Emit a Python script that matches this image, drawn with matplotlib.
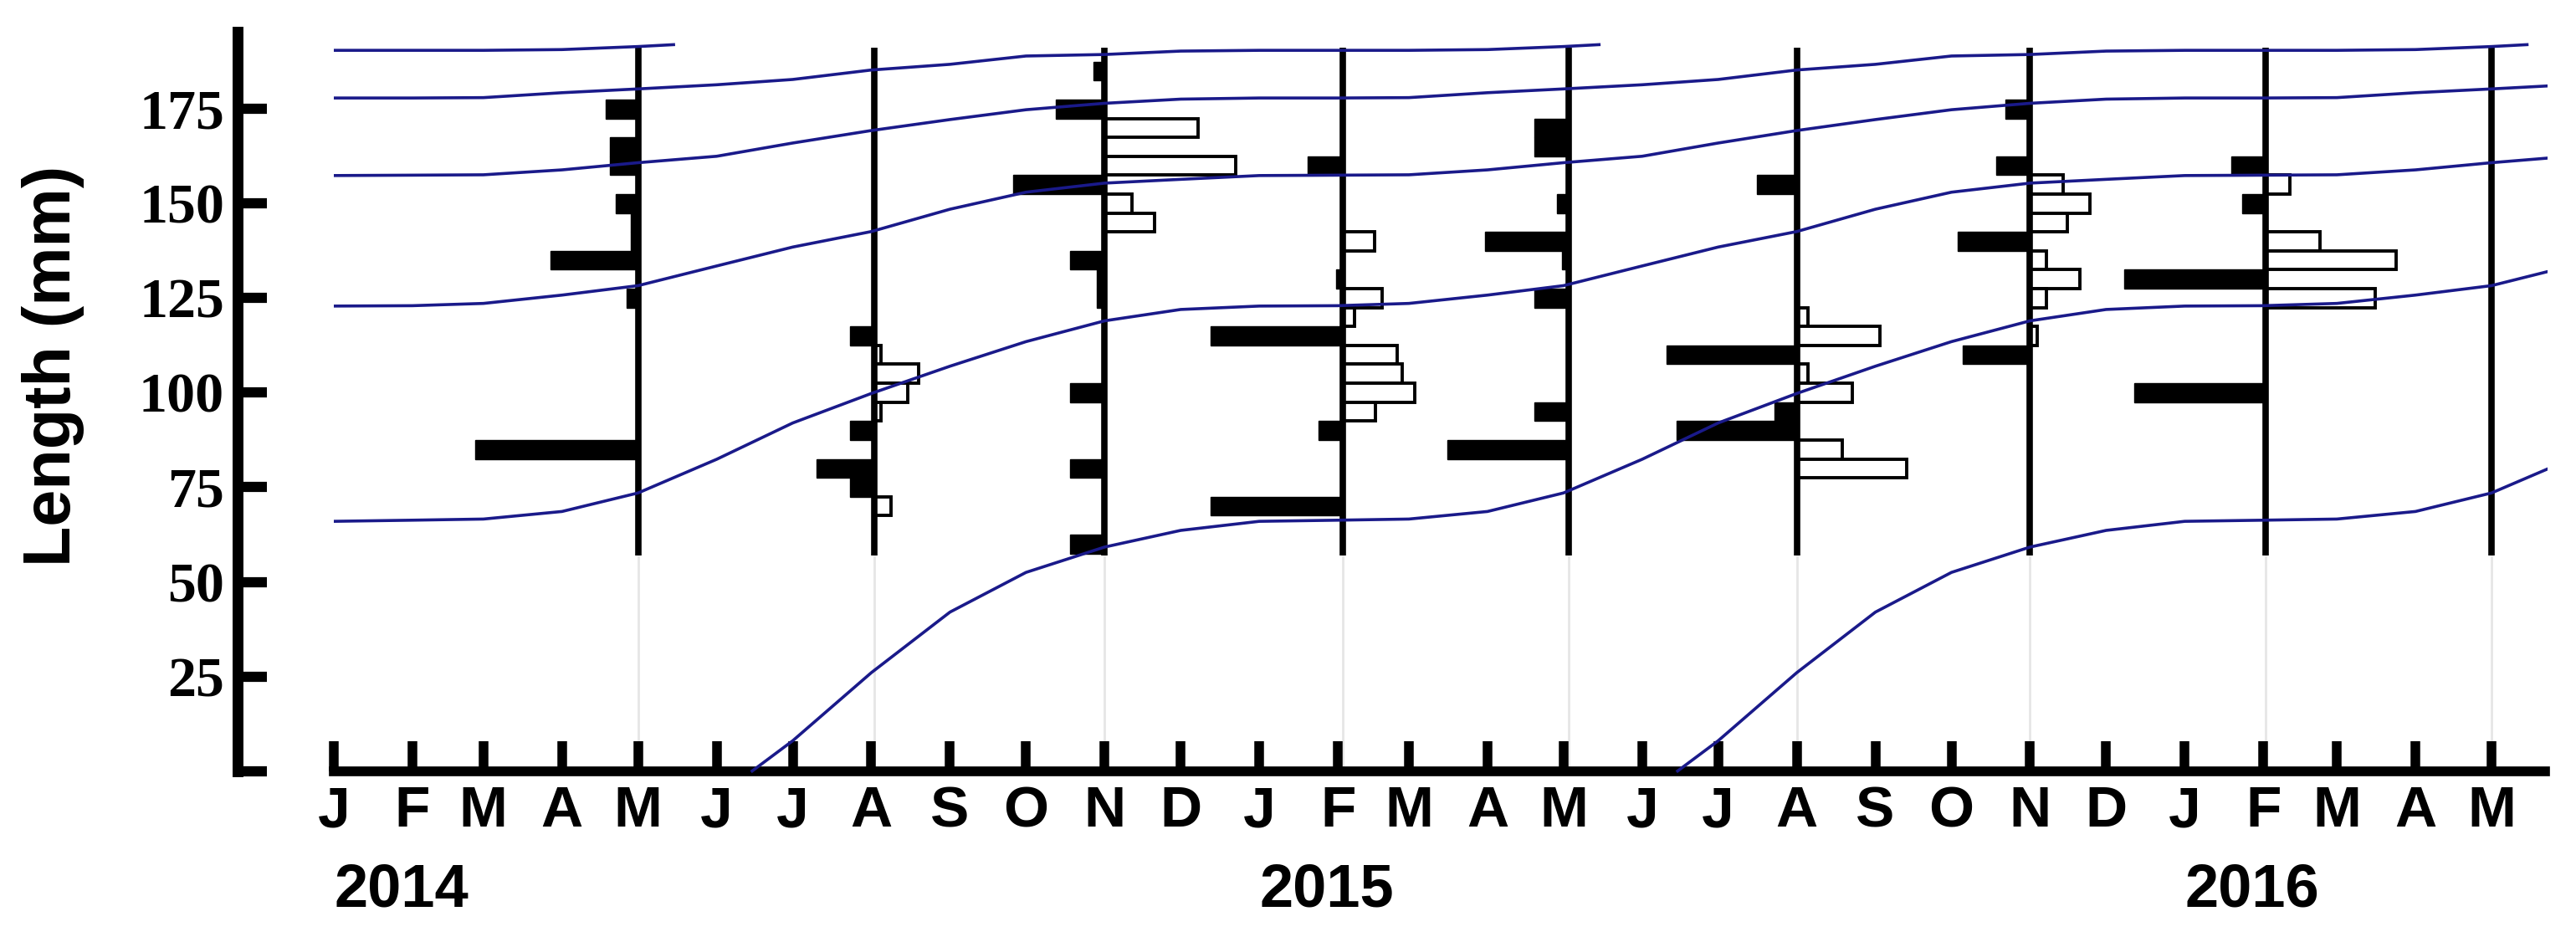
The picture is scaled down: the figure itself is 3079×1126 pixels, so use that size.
### Length-frequency histograms per sampling date with the fitted
### (seasonal) growth curves of the successive cohorts on top.

import datetime as dt
import matplotlib
matplotlib.use("Agg")
import matplotlib.pyplot as plt
import matplotlib.dates as mdates
import matplotlib.transforms as mtransforms
from matplotlib.patches import Rectangle

### sampling dates (one vertical line each)
sample_dates = ["2014-05-01", "2014-08-02", "2014-11-01", "2015-02-03", "2015-05-03",
                "2015-08-01", "2015-11-01", "2016-02-02", "2016-05-01"]

### (length class mm, relative frequency) -- filled bars go left, open bars go right
black_may14 = [(175, 8.6), (165, 7.5), (160, 7.5), (150, 5.8), (145, 1.9), (140, 1.9),
               (135, 23.0), (125, 3.1), (85, 42.9)]
open_may14 = []
black_aug14 = [(115, 6.2), (90, 6.2), (80, 15.0), (75, 6.2)]
open_aug14 = [(110, 1.8), (105, 11.8), (100, 8.8), (95, 1.8), (70, 4.4)]
black_nov14 = [(185, 3.0), (175, 12.9), (155, 24.1), (135, 9.0), (130, 2.0), (125, 2.0),
               (100, 9.0), (80, 9.0), (60, 9.0)]
open_nov14 = [(170, 24.6), (160, 34.5), (150, 7.3), (145, 13.2)]
black_feb15 = [(160, 9.2), (130, 1.9), (115, 34.7), (90, 6.4), (70, 34.7)]
open_feb15 = [(140, 8.4), (125, 10.2), (120, 3.1), (110, 14.2), (105, 15.5), (100, 18.9), (95, 8.6)]
black_may15 = [(170, 9.1), (165, 9.1), (150, 3.1), (140, 21.9), (135, 1.7), (125, 9.1),
               (95, 9.1), (85, 31.8)]
open_may15 = []
black_aug15 = [(155, 10.4), (110, 34.2), (95, 5.9), (90, 31.6)]
open_aug15 = [(120, 3.0), (115, 21.9), (105, 3.0), (100, 14.5), (85, 12.0), (80, 28.8)]
black_nov15 = [(175, 6.4), (160, 9.0), (140, 19.1), (110, 17.6)]
open_nov15 = [(155, 8.7), (150, 15.8), (145, 9.9), (135, 4.4), (130, 13.2), (125, 4.4), (115, 1.8)]
black_feb16 = [(160, 9.0), (150, 6.2), (130, 37.3), (100, 34.5)]
open_feb16 = [(155, 6.2), (140, 14.2), (135, 34.2), (125, 28.8)]
black_may16 = []
open_may16 = []

black_bars = [black_may14, black_aug14, black_nov14, black_feb15, black_may15,
              black_aug15, black_nov15, black_feb16, black_may16]
open_bars = [open_may14, open_aug14, open_nov14, open_feb15, open_may15,
             open_aug15, open_nov15, open_feb16, open_may16]

### growth curve: length (mm) vs months since 1 Jan of the birth year
growth_k = [5.45] + list(range(6, 65)) + [64.45]
growth_mm = [0, 8, 26, 42, 52.5, 59.2, 63.6, 66.0, 66.3, 66.6, 68.6, 73.5, 82.4, 92.0,
             99.8, 107.0, 113.5, 119.0, 122.0, 122.9, 123.0, 123.6, 125.8, 128.3, 133.5,
             138.5, 142.6, 148.5, 153.0, 155.4, 156.4, 157.4, 157.5, 157.6, 158.9, 160.8,
             162.5, 166.0, 169.3, 172.2, 174.8, 176.5, 177.6, 177.9, 177.9, 178.0, 179.3,
             180.3, 181.4, 182.8, 185.3, 186.8, 189.0, 189.4, 190.3, 190.5, 190.5, 190.5,
             190.7, 191.5, 192.0]
cohorts = [2009, 2010, 2011, 2012, 2013, 2014, 2015]

month_letters = list("JFMAMJJASOND") * 2 + list("JFMAM")
years = [2014, 2015, 2016]

SANS = "Liberation Sans"
SERIF = "Liberation Serif"
CURVE = "#1a1a8a"
BIN = 5.0          # mm per length class
FREQ_SCALE = 1.5   # days of x-axis per frequency unit


def k_to_date(year, k):
    km = int(k)
    day = 1 + int(round((k - km) * 30))
    return dt.datetime(year + km // 12, km % 12 + 1, day)


fig = plt.figure(figsize=(30.79, 11.26), dpi=100)
ax = fig.add_axes([283.5 / 3079, 204.4 / 1126, (3079 - 283.5) / 3079, 904.4 / 1126])

base = mdates.date2num(dt.datetime(2014, 1, 1))
px_day = 3.0306
ax.set_xlim(base - (399 - 283.5) / px_day, base + (3079 - 399) / px_day)
ax.set_ylim(0, 200)

xs = [mdates.date2num(dt.datetime.strptime(d, "%Y-%m-%d")) for d in sample_dates]

# faint continuation + the black sample lines
ax.vlines(xs, 0, 57, color="#e6e6e6", lw=2, zorder=1)
ax.vlines(xs, 57, 191.3, color="black", lw=5.5, zorder=4, capstyle="butt")

for x, blk, opn in zip(xs, black_bars, open_bars):
    if blk:
        mm, f = zip(*blk)
        ax.barh(mm, [-v * FREQ_SCALE for v in f], left=x, height=BIN,
                color="black", edgecolor="black", lw=1, zorder=3)
    if opn:
        mm, f = zip(*opn)
        ax.barh(mm, [v * FREQ_SCALE for v in f], left=x, height=BIN,
                color="white", edgecolor="black", lw=2.8, zorder=3)

# cohort growth curves, clipped to the plotted period
clip = Rectangle((base, -10), 873.0, 220, transform=ax.transData)
for yr in cohorts:
    dates = [k_to_date(yr, k) for k in growth_k]
    line, = ax.plot(mdates.date2num(dates), growth_mm, color=CURVE, lw=2.6, zorder=5)
    line.set_clip_path(clip)

# axes styling
for s in ["top", "right"]:
    ax.spines[s].set_visible(False)
ax.spines["left"].set_linewidth(9.3)
ax.spines["left"].set_bounds(0, 195.5)
ax.spines["bottom"].set_linewidth(8.4)
ax.spines["bottom"].set_bounds(base, base + 872)

month_ticks = []
for i in range(len(month_letters)):
    month_ticks.append(mdates.date2num(dt.datetime(2014 + i // 12, i % 12 + 1, 1)))
ax.set_xticks(month_ticks)
ax.set_xticklabels(month_letters, fontfamily=SANS, fontweight="bold", fontsize=50)
ax.tick_params(axis="x", direction="in", length=26, width=8.3, pad=12)

yt = [0, 25, 50, 75, 100, 125, 150, 175]
ax.set_yticks(yt)
ax.set_yticklabels([""] + [str(v) for v in yt[1:]], fontfamily=SERIF,
                   fontweight="bold", fontsize=49)
ax.tick_params(axis="y", direction="in", length=25, width=8.8, pad=11)

trans = mtransforms.blended_transform_factory(ax.transData, fig.transFigure)
for yr in years:
    ax.text(mdates.date2num(dt.datetime(yr, 1, 1)), 1 - 1064 / 1126, str(yr),
            transform=trans, ha="left", va="center", fontsize=52,
            fontweight="bold", fontfamily=SANS)

fig.text(64 / 3079, 1 - 437 / 1126, "Length (mm)", rotation=90, ha="center",
         va="center", fontsize=57, fontweight="bold", fontfamily=SANS)

fig.savefig("out.png", dpi=100, facecolor="white")
